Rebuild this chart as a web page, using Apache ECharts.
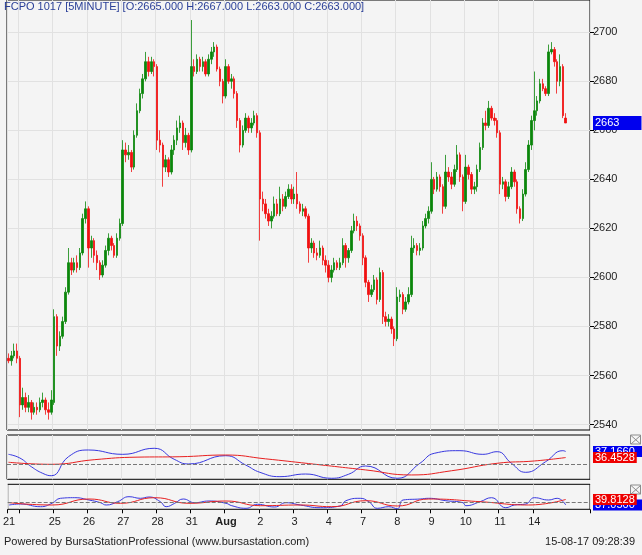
<!DOCTYPE html>
<html><head><meta charset="utf-8">
<script src="https://cdn.jsdelivr.net/npm/echarts/dist/echarts.min.js"></script>
<style>html,body{margin:0;padding:0;background:#f4f4f4}#c{width:642px;height:555px}</style>
</head><body><div id="c"></div><script>
// ---------------- data ----------------
const chartTitle = 'FCPO 1017 [5MINUTE] [O:2665.000 H:2667.000 L:2663.000 C:2663.000]';
const footerLeft = 'Powered by BursaStationProfessional (www.bursastation.com)';
const footerRight = '15-08-17 09:28:39';

const dayLabels = ['21','24','25','26','27','28','31','Aug','2','3','4','7','8','9','10','11','14'];
const hiddenDayLabels = ['24'];

// candles: [open, close, low, high]
const jul21 = [[2567,2566,2565,2569],[2566,2568,2564,2570],[2568,2570,2567,2573],[2570,2567,2565,2573]];
const jul24 = [[2567,2548,2543,2568],[2548,2551,2546,2555],[2551,2547,2545,2553],[2547,2549,2545,2552],[2549,2545,2542,2550],[2545,2547,2544,2549],[2547,2546,2544,2549],[2546,2549,2545,2551],[2549,2550,2547,2553],[2550,2546,2544,2551],[2546,2545,2542,2549],[2545,2550,2544,2554]];
const jul25 = [[2549,2584,2548,2587],[2584,2572,2568,2585],[2572,2576,2570,2578],[2576,2582,2575,2584],[2582,2594,2581,2596],[2594,2606,2593,2612],[2606,2603,2601,2608],[2603,2606,2602,2608],[2606,2604,2602,2609],[2604,2610,2603,2612],[2610,2624,2609,2626],[2624,2628,2622,2631]];
const jul26 = [[2628,2612,2604,2629],[2612,2615,2608,2617],[2615,2609,2606,2616],[2609,2606,2603,2611],[2606,2601,2599,2607],[2601,2605,2600,2607],[2605,2611,2604,2613],[2611,2616,2609,2618],[2616,2613,2611,2617],[2613,2609,2608,2614],[2609,2616,2608,2618],[2616,2622,2615,2624]];
const jul27 = [[2622,2652,2621,2656],[2652,2650,2647,2655],[2650,2651,2648,2654],[2651,2645,2643,2652],[2645,2658,2644,2660],[2658,2668,2657,2671],[2668,2675,2667,2677],[2675,2681,2673,2683],[2681,2688,2680,2692],[2688,2684,2682,2690],[2684,2688,2683,2690],[2688,2686,2682,2689]];
const jul28 = [[2686,2656,2652,2687],[2656,2654,2651,2660],[2654,2645,2637,2655],[2645,2648,2643,2650],[2648,2643,2641,2649],[2643,2652,2642,2654],[2652,2656,2650,2658],[2656,2661,2654,2664],[2661,2663,2659,2666],[2663,2655,2652,2664],[2655,2658,2653,2661],[2658,2652,2650,2659]];
const jul31 = [[2652,2686,2651,2705],[2686,2684,2682,2689],[2684,2689,2683,2691],[2689,2686,2684,2690],[2686,2688,2684,2690],[2688,2683,2682,2689],[2683,2689,2682,2691],[2689,2692,2687,2694],[2692,2694,2690,2696],[2694,2685,2684,2695],[2685,2680,2678,2686],[2680,2674,2671,2681]];
const aug01 = [[2674,2686,2673,2689],[2686,2680,2679,2687],[2680,2681,2677,2683],[2681,2675,2673,2682],[2675,2664,2661,2676],[2664,2654,2651,2665],[2654,2660,2653,2662],[2660,2665,2659,2667],[2665,2661,2659,2666],[2661,2663,2659,2665],[2663,2666,2662,2668],[2666,2659,2657,2667]];
const aug02 = [[2659,2632,2615,2660],[2632,2630,2627,2635],[2630,2626,2624,2632],[2626,2623,2621,2628],[2623,2625,2620,2627],[2625,2630,2624,2633],[2630,2626,2625,2632],[2626,2632,2625,2637],[2632,2629,2627,2634],[2629,2633,2628,2635],[2633,2636,2632,2638],[2636,2632,2630,2638]];
const aug03 = [[2632,2634,2630,2637],[2634,2630,2628,2643],[2630,2627,2626,2631],[2627,2628,2625,2630],[2628,2625,2624,2629],[2625,2612,2606,2626],[2612,2614,2610,2616],[2614,2610,2608,2615],[2610,2609,2607,2612],[2609,2612,2608,2615],[2612,2607,2605,2613],[2607,2605,2602,2609]];
const aug04 = [[2605,2600,2598,2607],[2600,2603,2598,2605],[2603,2606,2602,2608],[2606,2604,2603,2607],[2604,2606,2603,2608],[2606,2613,2605,2616],[2613,2608,2604,2614],[2608,2611,2606,2612],[2611,2619,2610,2621],[2619,2623,2618,2626],[2623,2621,2619,2625],[2621,2617,2615,2622]];
const aug07 = [[2617,2608,2605,2618],[2608,2598,2596,2609],[2598,2593,2590,2599],[2593,2595,2592,2597],[2595,2599,2594,2601],[2599,2591,2589,2600],[2591,2602,2590,2604],[2602,2584,2581,2603],[2584,2582,2580,2586],[2582,2583,2580,2585],[2583,2579,2577,2584],[2579,2575,2572,2580]];
const aug08 = [[2575,2592,2574,2596],[2592,2593,2590,2595],[2593,2587,2585,2594],[2587,2590,2586,2592],[2590,2593,2589,2596],[2593,2612,2592,2617],[2612,2613,2610,2616],[2613,2611,2609,2614],[2611,2612,2609,2614],[2612,2621,2611,2623],[2621,2624,2620,2626],[2624,2627,2622,2629]];
const aug09 = [[2627,2640,2626,2647],[2640,2636,2634,2641],[2636,2641,2635,2643],[2641,2637,2635,2642],[2637,2629,2626,2638],[2629,2643,2628,2650],[2643,2641,2639,2645],[2641,2638,2636,2643],[2638,2644,2637,2646],[2644,2650,2643,2654],[2650,2641,2639,2651],[2641,2631,2627,2642]];
const aug10 = [[2631,2645,2630,2650],[2645,2642,2640,2646],[2642,2636,2634,2643],[2636,2637,2634,2639],[2637,2644,2635,2646],[2644,2653,2643,2655],[2653,2663,2652,2665],[2663,2662,2660,2668],[2662,2669,2661,2672],[2669,2665,2664,2670],[2665,2664,2662,2667],[2664,2659,2657,2665]];
const aug11 = [[2659,2638,2634,2660],[2638,2639,2636,2641],[2639,2633,2631,2640],[2633,2637,2632,2639],[2637,2643,2636,2645],[2643,2639,2637,2644],[2639,2628,2626,2640],[2628,2624,2622,2629],[2624,2634,2623,2636],[2634,2644,2633,2647],[2644,2654,2643,2656],[2654,2664,2652,2666]];
const aug14 = [[2664,2668,2660,2684],[2668,2672,2666,2674],[2672,2679,2671,2681],[2679,2677,2676,2681],[2677,2675,2674,2678],[2675,2692,2674,2695],[2692,2693,2691,2696],[2693,2688,2686,2694],[2688,2680,2675,2689],[2680,2686,2678,2691],[2686,2666,2665,2687],[2665,2663,2663,2667]];
const dayBars = [jul21, jul24, jul25, jul26, jul27, jul28, jul31, aug01, aug02, aug03, aug04, aug07, aug08, aug09, aug10, aug11, aug14];

const priceMin = 2540, priceMax = 2700, priceStep = 20;

// oscillator panels: [bar index, value]
const osc1Fast = [[0,36.83],[4,36.40],[8,35.38],[12,34.60],[15,34.32],[21,36.55],[28,37.34],[40,36.83],[51,37.54],[58,36.25],[63,35.70],[76,36.67],[83,35.58],[88,34.72],[95,34.21],[104,34.52],[113,34.02],[119,34.49],[125,35.46],[136,34.02],[144,35.78],[149,36.95],[158,37.26],[166,36.83],[171,37.14],[176,35.78],[181,34.72],[188,35.97],[194,37.26],[195,37.166]];
const osc1Slow = [[0,35.90],[15,35.66],[30,36.20],[45,36.50],[60,36.55],[76,36.75],[90,36.30],[105,35.75],[125,35.00],[141,34.41],[155,34.90],[171,35.78],[184,36.05],[195,36.4528]];
const osc1Ref = 35.66, osc1Min = 33.9, osc1Max = 39.1;
const osc2Fast = [[0,37.05],[4,37.55],[11,36.2],[15,37.9],[18,40.4],[23,40.7],[28,39.55],[32,38.2],[34,37.05],[38,38.7],[42,41.2],[46,40.4],[49,41.05],[53,38.7],[55,36.2],[58,37.9],[61,40.05],[65,38.2],[70,39.05],[76,37.9],[78,36.7],[83,35.4],[87,37.4],[93,36.05],[97,38.2],[102,37.05],[109,35.7],[116,36.55],[118,39.2],[123,40.4],[126,38.7],[129,35.4],[133,36.2],[136,35.2],[138,39.55],[144,40.05],[147,40.4],[153,39.2],[159,38.2],[160,36.7],[165,38.7],[169,40.7],[174,35.7],[177,37.05],[181,37.55],[184,40.7],[189,39.55],[192,40.4],[195,37.05]];
const osc2Slow = [[0,38.2],[15,37.05],[28,40.05],[39,37.9],[51,40.7],[63,37.9],[76,39.05],[88,36.7],[102,37.05],[113,36.2],[125,39.2],[136,36.55],[147,40.05],[165,38.7],[182,37.05],[195,39.8128]];
const osc2Ref = 38.2, osc2Min = 34.9, osc2Max = 47.4;

// ---------------- layout / style ----------------
const FONT = '"Liberation Sans", Arial, sans-serif';
const RIGHT_PAD_BARS = 8;
const GRID_L = 7, GRID_R = 52;
const UP = '#0b860b', DOWN = '#f01010', BLUE = '#3838e0', RED = '#e82020';
const GRIDLINE = '#e1e1e1';
const NO_LINE = { color: 'rgba(0,0,0,0)', width: 0, opacity: 1 };

const categories = [];
const candles = [];
const dayStart = new Set();
dayBars.forEach((bars, d) => {
  bars.forEach((b, k) => {
    if (k === 0) dayStart.add(categories.length);
    categories.push(dayLabels[d] + '|' + k);
    candles.push(b);
  });
});
for (let k = 0; k < RIGHT_PAD_BARS; k++) categories.push('pad|' + k);
const isDayStart = (idx) => dayStart.has(idx);
const lastClose = candles[candles.length - 1][1];
const last = (arr) => arr[arr.length - 1][1];

function valueLabel(bg, padRight) {
  return {
    show: true, position: 'end', distance: 3, opacity: 1,
    formatter: p => Number(p.value).toFixed(4),
    color: '#fff', backgroundColor: bg, fontSize: 11, fontFamily: FONT,
    lineHeight: 11, padding: [0, padRight, 0, 2]
  };
}
function oscLine(name, data, color, xi, z, markData) {
  return {
    type: 'line', name, data, xAxisIndex: xi, yAxisIndex: xi, smooth: 0.5,
    showSymbol: false, symbol: 'none', clip: false, z,
    lineStyle: { color, width: 1 }, emphasis: { disabled: true },
    markLine: { silent: true, precision: 4, symbol: ['none', 'none'], animation: false, data: markData }
  };
}
function closeIcon(x, y) {
  return {
    type: 'group', x, y, silent: true, children: [
      { type: 'rect', shape: { x: 0.5, y: 0.5, width: 10, height: 9 }, style: { fill: 'none', stroke: '#8c8c8c', lineWidth: 1 } },
      { type: 'line', shape: { x1: 1, y1: 1, x2: 10.5, y2: 9.5 }, style: { stroke: '#8c8c8c', lineWidth: 1 } },
      { type: 'line', shape: { x1: 10.5, y1: 1, x2: 1, y2: 9.5 }, style: { stroke: '#8c8c8c', lineWidth: 1 } }
    ]
  };
}
const splitX = { show: true, interval: (i) => isDayStart(i), lineStyle: { color: GRIDLINE, width: 1 } };
const hiddenCat = (gi, extra) => Object.assign({
  type: 'category', gridIndex: gi, data: categories, boundaryGap: true,
  axisLine: { show: false }, axisTick: { show: false }, axisLabel: { show: false },
  splitLine: splitX
}, extra || {});

const chart = echarts.init(document.getElementById('c'), null, { renderer: 'canvas' });
chart.setOption({
  animation: false,
  backgroundColor: '#f4f4f4',
  textStyle: { fontFamily: FONT },
  title: [
    { text: chartTitle, left: 4, top: 1, padding: 0, textStyle: { fontSize: 11, fontWeight: 'normal', color: '#2a3f98', fontFamily: FONT } },
    { text: footerLeft, left: 4, top: 536, padding: 0, textStyle: { fontSize: 11, fontWeight: 'normal', color: '#222', fontFamily: FONT } },
    { text: footerRight, right: 7, top: 536, padding: 0, textStyle: { fontSize: 11, fontWeight: 'normal', color: '#222', fontFamily: FONT } }
  ],
  grid: [
    { left: GRID_L, right: GRID_R, top: -2, height: 432, show: true, borderColor: '#000', borderWidth: 1, backgroundColor: 'transparent' },
    { left: GRID_L, right: GRID_R, top: 32.3, height: 392.2 },
    { left: GRID_L, right: GRID_R, top: 435, height: 44.3, show: true, borderColor: '#000', borderWidth: 1, backgroundColor: 'transparent' },
    { left: GRID_L, right: GRID_R, top: 484.3, height: 25, show: true, borderColor: '#000', borderWidth: 1, backgroundColor: 'transparent' }
  ],
  xAxis: [
    hiddenCat(0),
    hiddenCat(1, { splitLine: { show: false } }),
    hiddenCat(2),
    hiddenCat(3, {
      axisTick: { show: true, interval: (i) => isDayStart(i), length: 4, lineStyle: { color: '#000' } },
      axisLabel: {
        show: true, interval: (i) => isDayStart(i), margin: 7, fontSize: 11, color: '#222', fontFamily: FONT,
        formatter: (v) => {
          const lab = v.split('|')[0];
          if (hiddenDayLabels.includes(lab)) return '';
          return lab === 'Aug' ? '{b|Aug}' : lab;
        },
        rich: { b: { fontWeight: 'bold', fontSize: 11, color: '#222', fontFamily: FONT } }
      }
    })
  ],
  yAxis: [
    { type: 'value', gridIndex: 0, show: false },
    {
      type: 'value', gridIndex: 1, position: 'right', min: priceMin, max: priceMax, interval: priceStep,
      axisLine: { show: false },
      axisTick: { show: true, length: 4, lineStyle: { color: '#000' } },
      axisLabel: { margin: 3, fontSize: 11, color: '#222', fontFamily: FONT, formatter: (v) => String(v) },
      splitLine: { show: true, lineStyle: { color: GRIDLINE, width: 1 } }
    },
    { type: 'value', gridIndex: 2, min: osc1Min, max: osc1Max, show: false },
    { type: 'value', gridIndex: 3, min: osc2Min, max: osc2Max, show: false }
  ],
  series: [
    {
      type: 'candlestick', name: 'FCPO 1017', data: candles, xAxisIndex: 1, yAxisIndex: 1,
      barWidth: 2, clip: false, z: 2,
      itemStyle: { color: UP, color0: DOWN, borderColor: UP, borderColor0: DOWN, borderWidth: 0.8 },
      emphasis: { disabled: true },
      markLine: {
        silent: true, symbol: ['none', 'none'], animation: false,
        data: [{
          yAxis: lastClose, lineStyle: NO_LINE,
          label: {
            show: true, position: 'end', distance: 3, opacity: 1, formatter: p => String(Math.round(p.value)),
            color: '#fff', backgroundColor: '#0000ee', fontSize: 11, fontFamily: FONT,
            lineHeight: 12, padding: [1, 22, 1, 2]
          }
        }]
      }
    },
    oscLine('Osc1 fast', osc1Fast, BLUE, 2, 3, [
      { yAxis: osc1Ref, lineStyle: { color: '#777', type: 'dashed', width: 1 }, label: { show: false } },
      { yAxis: last(osc1Fast), lineStyle: NO_LINE, label: valueLabel('#0000ee', 8) }
    ]),
    oscLine('Osc1 slow', osc1Slow, RED, 2, 4, [
      { yAxis: last(osc1Slow), lineStyle: NO_LINE, label: valueLabel('#ee0000', 2) }
    ]),
    oscLine('Osc2 fast', osc2Fast, BLUE, 3, 3, [
      { yAxis: osc2Ref, lineStyle: { color: '#777', type: 'dashed', width: 1 }, label: { show: false } },
      { yAxis: last(osc2Fast), lineStyle: NO_LINE, label: valueLabel('#0000ee', 8) }
    ]),
    oscLine('Osc2 slow', osc2Slow, RED, 3, 4, [
      { yAxis: last(osc2Slow), lineStyle: NO_LINE, label: valueLabel('#ee0000', 2) }
    ])
  ],
  graphic: [closeIcon(630, 434.5), closeIcon(630, 484.5)]
});
</script></body></html>
